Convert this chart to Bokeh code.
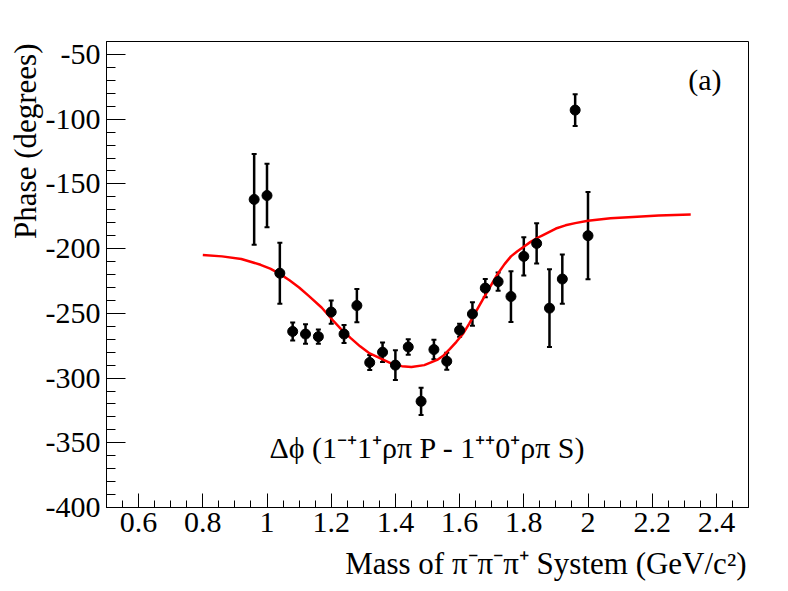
import math
from bokeh.plotting import figure
from bokeh.models import (ColumnDataSource, Whisker, TeeHead, FixedTicker, Label, Title,
                          Range1d, CustomJSTickFormatter)
from bokeh.embed import file_html
from bokeh.resources import INLINE

# ---- data ----
mass = [0.96, 1.00, 1.04, 1.08, 1.12, 1.16, 1.20, 1.24, 1.28, 1.32, 1.36, 1.40, 1.44,
        1.48, 1.52, 1.56, 1.60, 1.64, 1.68, 1.72, 1.76, 1.80, 1.84, 1.88, 1.92, 1.96, 2.00]
phase = [-162, -159, -219, -264, -266, -268, -249, -266, -244, -288, -280, -290, -276,
         -318, -278, -287, -263, -250.5, -230.5, -225.5, -237, -206, -196, -246, -223.5, -93, -190]
phase_err = [35, 24.5, 23.5, 7, 7.5, 5.5, 9, 7, 12.8, 5.8, 7.5, 11.5, 6,
             10.5, 7.5, 6.5, 5, 9, 7, 7, 19.6, 14.8, 15.5, 30, 19, 12.3, 33.7]

fit_mass = [0.80, 0.86, 0.92, 0.98, 1.01, 1.04, 1.07, 1.10, 1.13, 1.17, 1.20, 1.23, 1.26,
            1.29, 1.32, 1.36, 1.39, 1.42, 1.45, 1.49, 1.53, 1.55, 1.57, 1.59, 1.61, 1.63,
            1.65, 1.68, 1.70, 1.72, 1.74, 1.76, 1.78, 1.80, 1.82, 1.84, 1.86, 1.88, 1.90,
            1.93, 1.96, 2.00, 2.07, 2.14, 2.22, 2.32]
fit_phase = [-205, -206, -208, -212.5, -215.5, -219.5, -224.5, -230, -236.5, -245.5, -254,
             -262, -269, -275.5, -281, -285.5, -289, -290.8, -291.5, -290, -286, -282.5,
             -277.5, -272, -266, -258, -249, -236, -227.5, -219, -212, -206, -202, -198.5,
             -195, -192, -189.5, -187, -184.5, -182, -180.3, -178.5, -176.5, -175.5, -174.5,
             -173.7]

x_ticks = [0.6, 0.8, 1.0, 1.2, 1.4, 1.6, 1.8, 2.0, 2.2, 2.4]
y_ticks = [-400, -350, -300, -250, -200, -150, -100, -50]

x_title = "Mass of \u03c0\u207b\u03c0\u207b\u03c0\u207a System (GeV/c\u00b2)"
y_title = "Phase (degrees)"
panel_tag = "(a)"
phase_label = "\u0394\u03d5 (1\u207b\u207a1\u207a\u03c1\u03c0 P - 1\u207a\u207a0\u207a\u03c1\u03c0 S)"

FONT = "Liberation Serif"

src = ColumnDataSource(dict(
    x=mass, y=phase,
    upper=[v + e for v, e in zip(phase, phase_err)],
    lower=[v - e for v, e in zip(phase, phase_err)],
))

p = figure(width=786, height=591, output_backend="svg", toolbar_location=None,
           x_range=Range1d(0.5, 2.5), y_range=Range1d(-400, -40),
           min_border_left=106, min_border_right=38, min_border_top=41, min_border_bottom=84)

p.background_fill_color = "white"
p.border_fill_color = "white"
p.outline_line_color = "black"
p.outline_line_width = 1
p.xgrid.visible = False
p.ygrid.visible = False

# fit curve
p.line(fit_mass, fit_phase, line_color="#ff0000", line_width=2.5, line_join="round")

# error bars
w = Whisker(base="x", upper="upper", lower="lower", source=src,
            line_color="black", line_width=2.5,
            upper_head=TeeHead(size=5, line_color="black", line_width=2),
            lower_head=TeeHead(size=5, line_color="black", line_width=2))
p.add_layout(w)
p.scatter("x", "y", source=src, size=10, color="black")

# axes
minor_x = [round(0.5 + 0.05 * i, 2) for i in range(41)]
minor_y = [-400 + 10 * i for i in range(37)]
p.xaxis.ticker = FixedTicker(ticks=x_ticks, minor_ticks=minor_x)
p.yaxis.ticker = FixedTicker(ticks=y_ticks, minor_ticks=minor_y)
p.xaxis.formatter = CustomJSTickFormatter(code="return String(Math.round(tick*10)/10);")
p.yaxis.formatter = CustomJSTickFormatter(code="return tick.toFixed(0);")

for ax in (p.xaxis, p.yaxis):
    ax.axis_line_color = "black"
    ax.axis_line_width = 1
    ax.major_tick_line_color = "black"
    ax.minor_tick_line_color = "black"
    ax.major_tick_line_width = 1
    ax.minor_tick_line_width = 1
    ax.major_tick_out = 0
    ax.minor_tick_out = 0
    ax.major_label_text_font = FONT
    ax.major_label_text_font_size = "30px"
    ax.major_label_text_color = "black"

p.xaxis.major_tick_in = 14
p.xaxis.minor_tick_in = 7
p.yaxis.major_tick_in = 19
p.yaxis.minor_tick_in = 9
p.xaxis.major_label_standoff = 5
p.yaxis.major_label_standoff = 6

# axis titles (right / top aligned, ROOT style)
p.add_layout(Title(text=x_title, align="right", text_font=FONT, text_font_size="31px",
                   text_font_style="normal", text_color="black", standoff=18, offset=2),
             "below")
p.add_layout(Title(text=y_title, align="right", text_font=FONT, text_font_size="31px",
                   text_font_style="normal", text_color="black", standoff=0, offset=2),
             "left")

# annotations
p.add_layout(Label(x=2.3125, y=-74.4, y_offset=7, text=panel_tag, text_font=FONT,
                   text_font_size="30px", text_align="left", text_baseline="alphabetic",
                   text_color="black"))
p.add_layout(Label(x=1.5, y=-360.5, y_offset=9, text=phase_label,
                   text_font=FONT, text_font_size="30px", text_align="center",
                   text_baseline="alphabetic", text_color="black"))

open("out.html", "w").write(file_html(p, INLINE))
